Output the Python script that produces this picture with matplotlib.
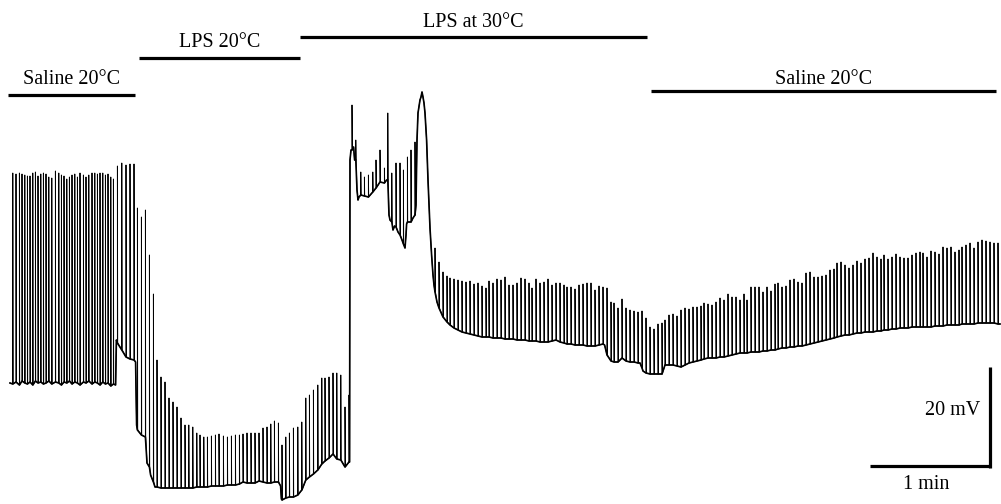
import matplotlib.pyplot as plt
import numpy as np

plt.rcParams['font.family'] = ['Liberation Serif', 'DejaVu Serif']

# ---- recorded trace, read off the figure (time in s, membrane potential in mV) ----
# each spike: time, peak, and the membrane potential it fires from
spike_t = [
    # saline 20 C
    1.4, 3.0, 4.7, 6.0, 7.4, 8.7, 10.0, 11.4, 12.7, 14.0, 15.4, 16.7, 18.0, 19.4,
    20.9, 22.7, 24.4, 25.7, 27.0, 28.4, 29.7, 31.0, 32.4, 33.7, 35.0, 36.7, 38.0,
    39.4, 41.0, 42.4, 43.7, 45.0, 46.4, 47.7, 49.0, 50.4, 51.7, 53.7, 55.9, 58.0,
    60.0, 62.0,
    # LPS 20 C
    63.7, 65.7, 67.7, 69.7, 71.7, 73.5, 75.5, 77.5, 79.5, 81.5, 83.5, 85.5, 87.5,
    89.4, 91.4, 93.4, 95.0, 96.9, 98.7, 100.7, 102.7, 104.5, 106.7, 108.7, 110.7,
    112.7, 114.7, 116.5, 118.5, 120.5, 122.5, 124.5, 126.5, 128.5, 130.4, 132.2,
    134.2, 136.0, 137.9, 139.7, 141.7, 143.9, 145.9, 147.9, 149.7, 151.7, 153.9,
    155.9, 157.5, 159.5, 161.5, 163.4, 165.4, 167.5, 169.5,
    # LPS at 30 C, plateau
    171.0, 172.9, 175.4, 177.2, 179.2, 181.4, 183.0, 185.0, 187.2, 188.9, 190.9,
    193.0, 195.0, 196.7, 198.7, 200.5, 202.5,
    # LPS at 30 C, after plateau
    212.5, 214.5, 216.5, 218.5, 220.0, 222.0, 224.0, 226.0, 228.0, 230.0,
    232.0, 234.0, 236.0, 238.0, 239.5, 241.5, 243.5, 245.5, 247.5, 249.5,
    251.5, 253.5, 255.5, 257.5, 259.5, 261.0, 263.0, 265.0, 267.0, 269.0,
    271.0, 273.0, 275.0, 277.0, 278.5, 280.5, 282.5, 284.5, 286.5, 288.5,
    290.5, 292.5, 294.5, 296.5, 298.5, 300.5, 302.0, 304.0, 306.0, 308.0,
    310.0, 312.0, 314.0, 316.0, 318.0, 320.0, 322.0, 324.0,
    # saline 20 C wash
    326.0, 327.5, 329.5, 331.5, 333.5, 335.5, 337.5, 339.5, 341.5, 343.5,
    345.5, 347.0, 349.0, 351.0, 353.0, 355.0, 357.0, 359.0, 361.0, 363.0,
    365.0, 367.0, 368.5, 370.5, 372.5, 374.5, 376.5, 378.5, 380.5, 382.5,
    384.0, 386.0, 388.0, 390.0, 392.0, 394.0, 396.0, 398.0, 400.0, 402.0,
    404.0, 406.0, 408.0, 410.0, 412.0, 413.5, 415.5, 417.5, 419.5, 421.5,
    423.5, 425.5, 427.5, 429.5, 431.5, 433.5, 435.5, 437.0, 439.0, 441.0,
    443.0, 445.0, 447.0, 449.0, 451.0, 453.0, 455.0, 456.5, 458.5, 460.5,
    462.5, 464.5, 466.5, 468.5, 470.5, 472.5, 474.5, 476.0, 478.0, 480.0,
    482.0, 484.0, 486.0, 488.0, 490.0, 492.0, 494.0,
]
spike_peak = [
    -18.6, -18.8, -18.6, -18.8, -19.0, -19.2, -19.2, -18.6, -18.4, -19.2, -18.8,
    -18.6, -18.8, -19.4, -19.6, -18.2, -18.6, -19.0, -19.2, -19.8, -19.4, -19.0,
    -18.8, -19.4, -18.6, -19.0, -19.4, -19.0, -18.6, -18.6, -18.8, -18.6, -18.6,
    -19.0, -18.8, -19.4, -19.8, -17.2, -16.6, -17.0, -16.8, -16.8,
    -25.6, -27.4, -26.0, -35.0, -42.8, -56.0, -59.4, -60.4, -63.6, -64.4, -65.4,
    -67.6, -69.0, -69.0, -69.4, -70.6, -71.0, -71.4, -71.4, -71.2, -71.0, -70.8,
    -71.2, -71.4, -71.2, -71.0, -71.0, -70.8, -70.6, -70.6, -70.6, -70.6, -69.6,
    -69.4, -68.8, -68.2, -68.6, -73.0, -71.4, -70.6, -69.6, -69.4, -68.4, -63.6,
    -63.0, -62.0, -61.0, -59.6, -59.6, -59.4, -58.6, -58.6, -59.0, -65.4, -63.0,
    -5.0, -12.0, -18.4, -19.4, -19.0, -18.4, -16.0, -14.0, -17.6, -6.6, -18.6,
    -16.6, -16.6, -18.0, -15.4, -14.0, -12.4,
    -33.6, -36.4, -38.4, -39.2, -39.6, -39.8, -40.0, -40.2, -40.4, -40.2,
    -40.8, -40.6, -41.2, -41.6, -40.2, -40.6, -39.8, -40.0, -39.4, -41.0,
    -41.0, -40.6, -39.6, -39.8, -40.6, -41.6, -39.8, -40.6, -40.4, -39.8,
    -41.0, -40.6, -40.6, -41.0, -41.4, -41.4, -41.8, -41.0, -40.8, -40.6,
    -40.6, -42.0, -41.2, -41.4, -41.6, -44.4, -44.6, -45.6, -43.8, -45.6,
    -46.0, -46.2, -46.4, -46.2, -47.6, -49.4, -49.8, -48.8,
    -48.6, -48.0, -47.0, -46.8, -47.2, -46.0, -45.6, -45.8, -45.4, -45.4,
    -45.2, -44.6, -44.8, -45.0, -44.4, -43.6, -44.0, -42.8, -43.4, -43.4,
    -44.0, -42.8, -44.0, -41.4, -41.4, -41.4, -42.4, -41.4, -42.2, -40.8,
    -40.6, -41.4, -41.2, -40.0, -39.8, -40.4, -40.6, -38.6, -38.4, -39.4,
    -39.4, -39.2, -39.0, -38.0, -37.8, -36.6, -36.4, -37.0, -37.6, -37.0,
    -36.2, -36.6, -35.8, -35.6, -34.6, -35.4, -35.8, -35.0, -35.8, -35.4,
    -34.8, -35.4, -35.6, -35.6, -35.0, -34.6, -34.4, -34.6, -35.4, -34.2,
    -34.4, -34.8, -33.4, -33.6, -33.4, -34.4, -34.0, -33.4, -33.0, -32.6,
    -33.6, -32.4, -32.0, -32.2, -32.4, -32.6, -32.6,
]
spike_base = [
    -60.8, -60.4, -61.0, -60.2, -60.6, -60.8, -60.4, -61.0, -60.2, -60.6, -60.4,
    -60.8, -60.6, -60.2, -60.8, -60.4, -60.6, -61.0, -60.4, -60.6, -60.2, -60.8,
    -60.4, -60.6, -61.0, -60.4, -60.6, -60.2, -60.8, -60.4, -60.6, -61.0, -60.4,
    -60.8, -60.6, -61.2, -60.8, -52.6, -54.0, -55.4, -55.8, -56.0,
    -70.0, -71.0, -71.4, -77.4, -80.4, -81.4, -81.6, -81.6, -81.6, -81.6, -81.6,
    -81.6, -81.6, -81.6, -81.6, -81.4, -81.4, -81.4, -81.4, -81.2, -81.2, -81.2,
    -81.2, -81.0, -81.0, -81.0, -80.8, -80.4, -80.6, -80.6, -80.6, -80.2, -80.4,
    -80.6, -80.6, -80.4, -80.4, -84.0, -83.6, -83.4, -83.4, -83.0, -82.0, -80.0,
    -79.4, -78.8, -78.0, -76.8, -76.2, -75.6, -74.8, -75.8, -76.0, -77.4, -76.4,
    -14.0, -16.0, -23.0, -23.2, -23.4, -22.4, -21.6, -20.4, -20.6, -20.0, -28.4,
    -29.4, -31.0, -32.8, -28.4, -28.4, -27.0,
    -42.4, -45.6, -47.4, -48.4, -49.0, -49.6, -50.0, -50.4, -50.6, -50.8,
    -51.0, -51.2, -51.4, -51.4, -51.4, -51.6, -51.6, -51.6, -51.8, -51.8,
    -51.8, -52.0, -52.0, -52.0, -52.2, -52.2, -52.2, -52.4, -52.4, -52.4,
    -52.2, -52.0, -52.4, -52.6, -52.8, -52.8, -53.0, -53.0, -53.0, -53.2,
    -53.2, -53.2, -53.0, -52.8, -55.0, -56.2, -56.4, -56.4, -55.6, -56.2,
    -56.4, -56.4, -56.6, -57.6, -58.6, -58.8, -58.8, -58.8,
    -58.8, -57.0, -57.0, -57.0, -57.2, -57.4, -57.0, -56.6, -56.4, -56.2,
    -56.0, -55.8, -55.6, -55.6, -55.6, -55.4, -55.4, -55.2, -55.0, -54.8,
    -54.6, -54.6, -54.6, -54.4, -54.4, -54.4, -54.2, -54.2, -54.0, -54.0,
    -53.8, -53.6, -53.6, -53.4, -53.4, -53.2, -53.2, -53.0, -52.8, -52.6,
    -52.4, -52.2, -52.0, -51.8, -51.6, -51.4, -51.2, -51.0, -51.0, -50.8,
    -50.6, -50.6, -50.4, -50.4, -50.4, -50.2, -50.2, -50.0, -50.0, -49.8,
    -49.8, -49.6, -49.6, -49.6, -49.4, -49.4, -49.4, -49.4, -49.4, -49.4,
    -49.2, -49.2, -49.2, -49.0, -49.0, -49.0, -49.0, -48.8, -48.8, -48.8,
    -48.8, -48.6, -48.6, -48.6, -48.6, -48.6, -48.8,
]

# membrane potential between spikes where it moves (depolarisations, plateau, steps)
knot_t = [0.0, 52.8, 53.2, 62.8, 63.3, 68.5, 70.3, 72.5, 135.3, 135.7,
          169.8, 170.0, 170.5, 171.8, 172.3, 173.5, 174.0, 174.5, 188.3, 189.5,
          190.0, 191.5, 192.3, 194.0, 196.0, 197.5, 198.0, 198.3, 201.5, 203.0,
          203.5, 204.0, 205.0, 205.5, 206.0, 206.5, 207.0, 207.5, 208.3, 209.0,
          210.0, 210.8, 211.5, 212.0, 213.5, 297.3, 315.0, 316.5, 495.0]
knot_v = [-60.6, -61.0, -52.0, -56.4, -69.0, -76.6, -79.0, -81.4, -81.2, -83.8,
          -76.4, -16.0, -14.0, -13.4, -16.0, -22.0, -24.0, -23.4, -20.0, -27.0,
          -28.0, -30.0, -29.2, -30.4, -32.0, -33.6, -31.0, -28.8, -27.6, -25.0,
          -12.0, -6.6, -4.0, -3.4, -2.4, -3.4, -4.6, -6.6, -12.0, -20.0,
          -29.6, -35.0, -39.0, -41.0, -44.4, -53.0, -56.6, -58.2, -48.8]

# treatment periods (s)
period_label = ['Saline 20°C', 'LPS 20°C', 'LPS at 30°C', 'Saline 20°C']
period_start = [-1.0, 64.5, 145.0, 320.5]
period_end = [62.5, 145.0, 318.5, 493.0]

# ---- assemble the trace ----
events = []
for t, pk, b in zip(spike_t, spike_peak, spike_base):
    events.append((t, [(t, b), (t, pk), (t + 0.15, b)]))
for t, v in zip(knot_t, knot_v):
    events.append((t, [(t, v)]))
events.sort(key=lambda e: e[0])
pts = np.array([p for _, seg in events for p in seg])

base = np.array(sorted(list(zip(spike_t, spike_base)) + list(zip(knot_t, knot_v))))

fig = plt.figure(figsize=(10.01, 5.04), dpi=100)
ax = fig.add_axes([0, 0, 1, 1])
ax.set_xlim(-5, 495.5)
ax.set_ylim(-84.8, 16)
ax.axis('off')

ax.plot(pts[:, 0], pts[:, 1], color='black', lw=0.65)
ax.plot(base[:, 0], base[:, 1], color='black', lw=1.2)

# treatment bars, label baseline a few points above each bar
bar_y = [-3.0, 4.4, 8.6, -2.2]
label_gap = [7.9, 7.9, 7.2, 5.0]
for lab, s, e, y, g in zip(period_label, period_start, period_end, bar_y, label_gap):
    ax.plot([s, e], [y, y], color='black', lw=2.3, solid_capstyle='butt')
    ax.annotate(lab, ((s + e) / 2, y), xytext=(0, g), textcoords='offset points',
                ha='center', va='baseline', fontsize=14.5)

# scale bars: 1 min, 20 mV
ax.plot([430, 490], [-77.2, -77.2], color='black', lw=2.3, solid_capstyle='butt')
ax.plot([490, 490], [-77.6, -57.4], color='black', lw=2.3, solid_capstyle='butt')
ax.text(485, -66, '20 mV', ha='right', va='center', fontsize=14.5)
ax.text(458, -80.8, '1 min', ha='center', va='center', fontsize=14.5)

fig.savefig('out.png', dpi=100, facecolor='white')
